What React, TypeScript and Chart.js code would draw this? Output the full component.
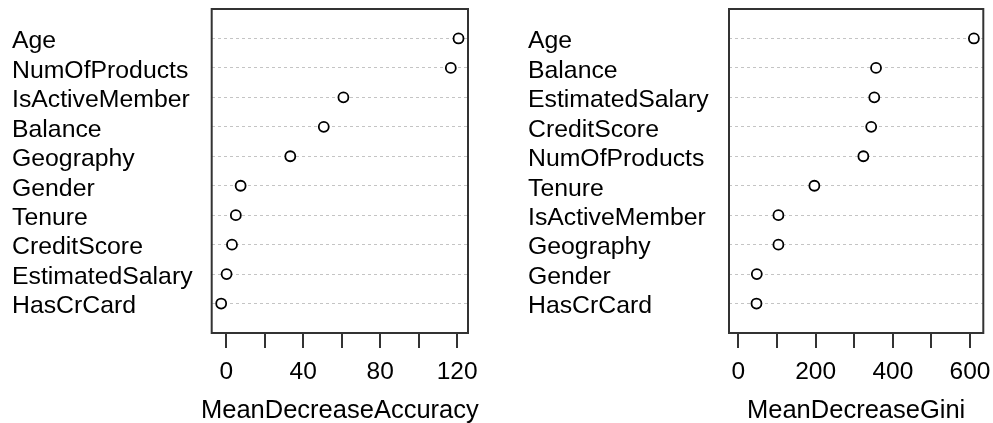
import React, { useEffect, useRef } from "react";
import { Chart, registerables } from "chart.js";

Chart.register(...registerables);

// Left panel: MeanDecreaseAccuracy (top to bottom)
const accuracyVars = [
  "Age",
  "NumOfProducts",
  "IsActiveMember",
  "Balance",
  "Geography",
  "Gender",
  "Tenure",
  "CreditScore",
  "EstimatedSalary",
  "HasCrCard",
];
const accuracyValues = [120.7, 116.7, 60.9, 50.7, 33.3, 7.5, 5.0, 3.0, 0.2, -2.6];
const accuracyTicks = [0, 20, 40, 60, 80, 100, 120];
const accuracyTickLabels = ["0", "", "40", "", "80", "", "120"];

// Right panel: MeanDecreaseGini (top to bottom)
const giniVars = [
  "Age",
  "Balance",
  "EstimatedSalary",
  "CreditScore",
  "NumOfProducts",
  "Tenure",
  "IsActiveMember",
  "Geography",
  "Gender",
  "HasCrCard",
];
const giniValues = [610, 356.5, 352, 344, 323.7, 196.8, 103.6, 103.6, 47.6, 46.8];
const giniTicks = [0, 100, 200, 300, 400, 500, 600];
const giniTickLabels = ["0", "", "200", "", "400", "", "600"];

const FONT = "'Liberation Sans', Arial, sans-serif";

const boxPlugin = {
  id: "rbox",
  afterDraw(chart: any, _args: any, opts: any) {
    const { ctx, chartArea } = chart;
    ctx.save();
    ctx.strokeStyle = "#333";
    ctx.lineWidth = 2;
    ctx.strokeRect(
      chartArea.left,
      chartArea.top,
      chartArea.right - chartArea.left,
      chartArea.bottom - chartArea.top
    );
    // x-axis title (drawn without width compression)
    ctx.fillStyle = "#000";
    ctx.font = `25.5px ${FONT}`;
    ctx.textAlign = "center";
    ctx.textBaseline = "alphabetic";
    ctx.fillText(opts.title, (chartArea.left + chartArea.right) / 2, chartArea.bottom + 85);
    ctx.restore();
  },
};

type PanelProps = {
  vars: string[];
  values: number[];
  ticks: number[];
  tickLabels: string[];
  title: string;
  xmin0: boolean;
  left: number;
  width: number;
  pad: { left: number; right: number };
  yWidth: number;
};

function DotPanel(p: PanelProps) {
  const ref = useRef<HTMLCanvasElement | null>(null);
  useEffect(() => {
    if (!ref.current) return;
    const lo = p.xmin0 ? 0 : Math.min(...p.values);
    const hi = Math.max(...p.values);
    const ext = (hi - lo) * 0.04;
    const catLabels = ["", ...p.vars, ""];
    const chart = new Chart(ref.current, {
      type: "scatter",
      data: {
        datasets: [
          {
            data: p.values.map((v, i) => ({ x: v, y: p.vars[i] })) as any,
            pointStyle: "circle",
            pointRadius: 5,
            pointHoverRadius: 5,
            pointBorderWidth: 1.8,
            pointBorderColor: "#000",
            pointBackgroundColor: "#fff",
            showLine: false,
          },
        ],
      },
      options: {
        animation: false,
        responsive: false,
        maintainAspectRatio: false,
        events: [],
        layout: { padding: { left: p.pad.left, right: p.pad.right, top: 9, bottom: 0 } },
        plugins: {
          legend: { display: false },
          tooltip: { enabled: false },
          rbox: { title: p.title },
        },
        scales: {
          x: {
            type: "linear",
            min: lo - ext,
            max: hi + ext,
            afterBuildTicks: (scale: any) => {
              scale.ticks = p.ticks.map((v) => ({ value: v }));
            },
            afterFit: (scale: any) => {
              scale.height = 90;
              scale.paddingLeft = 0;
              scale.paddingRight = 0;
            },
            grid: {
              drawOnChartArea: false,
              drawTicks: true,
              tickLength: 15,
              color: "#333",
              lineWidth: 2,
            },
            border: { display: false },
            ticks: {
              autoSkip: false,
              maxRotation: 0,
              padding: 10,
              color: "#000",
              font: { family: FONT, size: 24.5 },
              callback: (value: any) => {
                const i = p.ticks.indexOf(Number(value));
                return i >= 0 ? p.tickLabels[i] : "";
              },
            },
            title: { display: false },
          },
          y: {
            type: "category",
            labels: catLabels,
            offset: false,
            afterFit: (scale: any) => {
              scale.width = p.yWidth;
              scale.paddingTop = 0;
              scale.paddingBottom = 0;
            },
            grid: {
              drawTicks: false,
              tickLength: 0,
              color: (ctx: any) =>
                ctx.index === 0 || ctx.index === catLabels.length - 1
                  ? "rgba(0,0,0,0)"
                  : "#c4c4c4",
              lineWidth: 1,
            },
            border: { display: false, dash: [3, 3] },
            ticks: {
              autoSkip: false,
              crossAlign: "far",
              padding: 0,
              labelOffset: 3,
              color: "#000",
              font: { family: FONT, size: 24.8 },
            },
          },
        },
      } as any,
      plugins: [boxPlugin],
    });
    return () => chart.destroy();
  }, []);
  return (
    <canvas
      ref={ref}
      width={p.width}
      height={423}
      style={{ position: "absolute", left: p.left, top: 0, width: p.width, height: 423 }}
    />
  );
}

export default function App() {
  return (
    <div style={{ position: "fixed", left: 0, top: 0, width: 993, height: 423, background: "#fff" }}>
      <DotPanel
        vars={accuracyVars}
        values={accuracyValues}
        ticks={accuracyTicks}
        tickLabels={accuracyTickLabels}
        title="MeanDecreaseAccuracy"
        xmin0={false}
        left={0}
        width={496}
        pad={{ left: 12, right: 28 }}
        yWidth={199.7}
      />
      <DotPanel
        vars={giniVars}
        values={giniValues}
        ticks={giniTicks}
        tickLabels={giniTickLabels}
        title="MeanDecreaseGini"
        xmin0={true}
        left={496}
        width={497}
        pad={{ left: 32, right: 9.7 }}
        yWidth={201}
      />
    </div>
  );
}
